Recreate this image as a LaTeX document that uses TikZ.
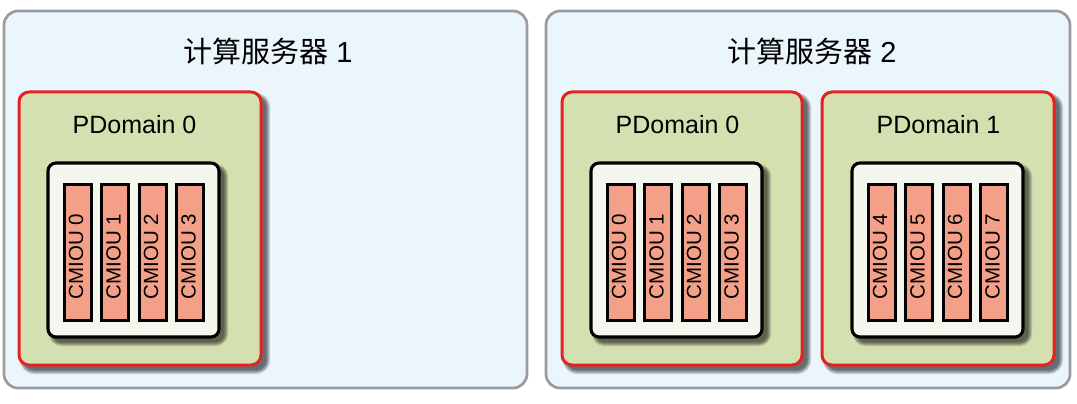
\documentclass[tikz,border=0pt]{standalone}
\usepackage{fontspec}
\setmainfont{Liberation Sans}
\newfontfamily\cjk{Noto Sans CJK SC}
\definecolor{srvfill}{HTML}{EBF5FC}
\definecolor{srvline}{HTML}{9B9B9F}
\definecolor{pdfill}{HTML}{D5E0B1}
\definecolor{pdline}{HTML}{E52222}
\definecolor{infill}{HTML}{F4F7EE}
\definecolor{barfill}{HTML}{F4A088}
\tikzset{
  srv/.style={rectangle, draw=srvline, fill=srvfill, line width=2.7pt, rounded corners=14pt, inner sep=0pt, outer sep=0pt},
  pd/.style={rectangle, draw=pdline, fill=pdfill, line width=3pt, rounded corners=10pt, inner sep=0pt, outer sep=0pt},
  inbox/.style={rectangle, draw=black, fill=infill, line width=3.1pt, rounded corners=8pt, inner sep=0pt, outer sep=0pt},
  bar/.style={rectangle, draw=black, fill=barfill, line width=3pt, inner sep=0pt, outer sep=0pt},
  title/.style={font=\fontsize{29}{34}\selectfont, anchor=base, inner sep=0pt},
  pdlabel/.style={font=\fontsize{25}{30}\selectfont, anchor=base, inner sep=0pt},
  barlabel/.style={font=\fontsize{20.5}{24}\selectfont, rotate=90, anchor=center, inner sep=0pt}
}
\newcommand\placebox[6]{%
  \pgfmathsetmacro\pbW{(#5)-(#3)}\pgfmathsetmacro\pbH{(#6)-(#4)}%
  \pgfmathsetmacro\pbX{((#3)+(#5))/2}\pgfmathsetmacro\pbY{((#4)+(#6))/2}%
  \node[#2, minimum width=\pbW pt, minimum height=\pbH pt] (#1) at (\pbX,\pbY) {};}
\newcommand\placeshadow[5]{%
  \foreach \k in {0,...,4}{%
    \pgfmathsetmacro\shr{#5+\k}%
    \fill[black, opacity=0.15, rounded corners=\shr pt] ({#1+5-\k},{#2+5-\k}) rectangle ({#3+5+\k},{#4+5+\k});}}
\newcommand\pdomain[6]{%
  \placeshadow{#2}{92}{#3}{365}{10}%
  \placebox{pd#1}{pd}{#2}{92}{#3}{365}%
  \node[pdlabel] (pdl#1) at ({#4+86.5},133) {PDomain #5};%
  \placeshadow{#4}{163}{#4+171}{337}{8}%
  \placebox{in#1}{inbox}{#4}{163}{#4+171}{337}%
  \foreach \i in {0,1,2,3}{%
    \pgfmathsetmacro\barL{#4+16+37.5*\i}%
    \pgfmathtruncatemacro\num{#6+\i}%
    \placebox{bar#1\i}{bar}{\barL}{184}{\barL+27}{320}%
    \node[barlabel] (bl#1\i) at ({\barL+12},256.5) {CMIOU \num};%
  }}
\begin{document}
\begin{tikzpicture}[x=1pt,y=-1pt]
\useasboundingbox (0,0) rectangle (1077,404);
\placebox{s1}{srv}{4}{11}{527}{388}
\placebox{s2}{srv}{546}{11}{1070}{388}
\node[title] (t1) at (268,62.5) {{\cjk 计算服务器} 1};
\node[title] (t2) at (812,62.5) {{\cjk 计算服务器} 2};
\pdomain{a}{19}{261}{48}{0}{0}
\pdomain{b}{562}{802}{591}{0}{0}
\pdomain{c}{822}{1054}{852}{1}{4}
\end{tikzpicture}
\end{document}
